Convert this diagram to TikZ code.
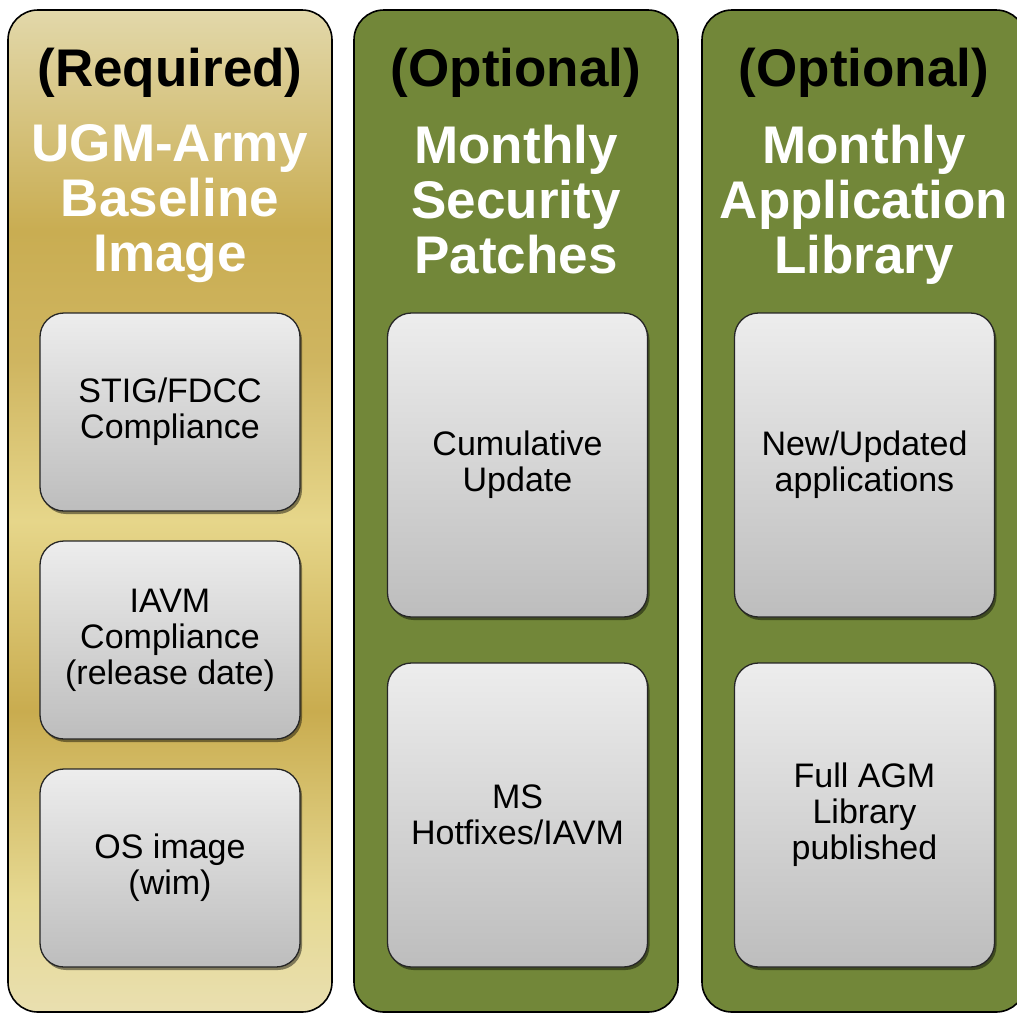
\documentclass[tikz,border=0pt]{standalone}
\usepackage{fontspec}
\setmainfont{Liberation Sans}
\usetikzlibrary{shadows}
\definecolor{gA}{HTML}{E2D8AA}
\definecolor{gB}{HTML}{C9AD52}
\definecolor{gC}{HTML}{CFB560}
\definecolor{gD}{HTML}{E6D68A}
\definecolor{gE}{HTML}{C9AC4F}
\definecolor{gF}{HTML}{E6D992}
\definecolor{gG}{HTML}{E9DFB0}
\definecolor{colgreen}{HTML}{728739}
\definecolor{boxtop}{HTML}{EDEDED}
\definecolor{boxbot}{HTML}{BDBDBD}
\pgfdeclareverticalshading{goldshade}{100bp}{color(0bp)=(gG); color(25bp)=(gG); color(30.5bp)=(gF); color(40bp)=(gE); color(49.5bp)=(gD); color(57.5bp)=(gC); color(64bp)=(gB); color(75bp)=(gA); color(100bp)=(gA)}
\begin{document}
\begin{tikzpicture}[x=1pt,y=-1pt,
  colnode/.style={draw=black, line width=1.6pt, rounded corners=30pt, minimum width=324pt, minimum height=1002pt, inner sep=0pt},
  inbox/.style={draw=black!85, line width=1.3pt, rounded corners=24pt, top color=boxtop, bottom color=boxbot, minimum width=260pt, inner sep=0pt, align=center, font=\fontsize{34}{36}\selectfont, drop shadow={shadow xshift=2pt, shadow yshift=-3pt, opacity=0.45, fill=black}},
  head/.style={font=\fontsize{53}{55}\selectfont\bfseries, anchor=base, inner sep=0pt},
  whitehead/.style={font=\fontsize{53}{55}\selectfont\bfseries, inner sep=0pt, text=white, align=center, anchor=north}]
\useasboundingbox (0,0) rectangle (1017,1013);
\clip (0,0) rectangle (1017,1013);
% columns
\node[colnode, shading=goldshade] (c1) at (170,511) {};
\node[colnode, fill=colgreen] (c2) at (516,511) {};
\node[colnode, fill=colgreen] (c3) at (864,511) {};
% headings
\node[head] (r1) at (170,86) {(Required)};
\node[head] (r2) at (516,86) {(Optional)};
\node[head] (r3) at (864,86) {(Optional)};
% titles
\node[whitehead] (t1) at (170,124.5) {UGM-Army\\Baseline\\Image};
\node[whitehead] (t2) at (516,124.5) {Monthly\\Security\\Patches};
\node[whitehead] (t3) at (864,124.5) {Monthly\\Application\\Library};
% inner boxes column 1
\node[inbox, minimum height=198pt] (b11) at (170,412) {STIG/FDCC\\Compliance};
\node[inbox, minimum height=198pt] (b12) at (170,640) {IAVM\\Compliance\\(release date)};
\node[inbox, minimum height=198pt] (b13) at (170,868) {OS image\\(wim)};
% column 2
\node[inbox, minimum height=304pt] (b21) at (517.5,465) {Cumulative\\Update};
\node[inbox, minimum height=304pt] (b22) at (517.5,815) {MS\\Hotfixes/IAVM};
% column 3
\node[inbox, minimum height=304pt] (b31) at (864.5,465) {New/Updated\\applications};
\node[inbox, minimum height=304pt] (b32) at (864.5,815) {Full AGM\\Library\\published};
\end{tikzpicture}
\end{document}
